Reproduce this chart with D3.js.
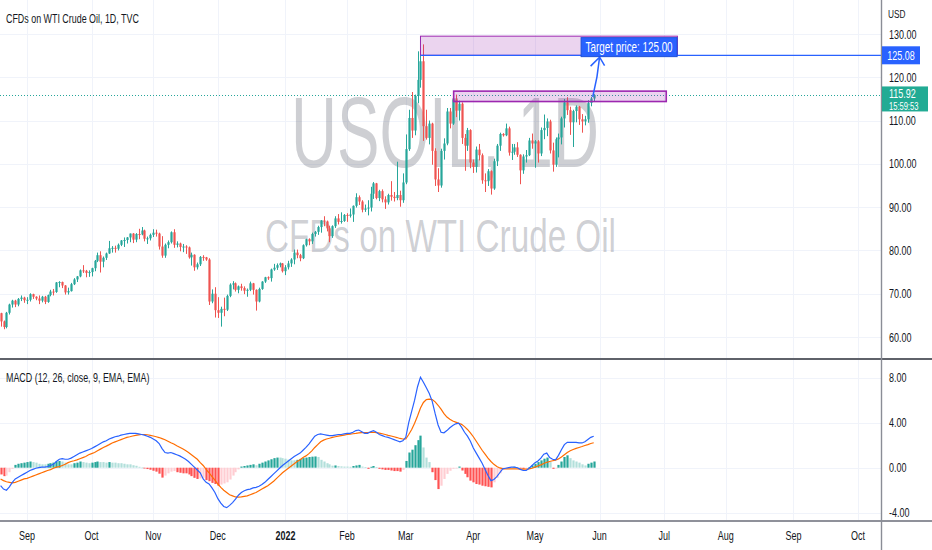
<!DOCTYPE html>
<html>
<head>
<meta charset="utf-8">
<script src="https://cdn.jsdelivr.net/npm/d3@7"></script>
<style>
  body { margin: 0; background: #fff; }
  svg { display: block; }
  text { font-family: "Liberation Sans", Arial, sans-serif; }
</style>
</head>
<body>
<div id="main"></div>
<script>
// daily candles, Aug 19 2021 .. May 30 2022 (weekdays), [open, high, low, close]
const ohlc = [
  // Aug 2021
  [65.5,65.6,62.4,63.6],[63.6,63.8,61.8,62.3],[62.3,65.8,62.0,65.6],[65.6,67.7,65.2,67.5],[67.5,68.6,66.8,68.4],
  [68.4,68.6,66.9,67.5],[67.5,69.0,67.1,68.8],[68.8,69.6,68.3,69.1],[69.1,69.3,67.9,68.5],
  // Sep
  [68.5,69.2,67.6,68.6],[68.6,70.1,68.2,69.9],[69.9,70.0,68.8,69.3],[69.3,69.4,68.5,68.9],[68.9,69.6,67.6,68.4],
  [68.4,69.5,68.0,69.3],[69.3,69.5,67.6,68.1],[68.1,69.8,67.9,69.7],[69.7,70.9,69.4,70.5],[70.5,71.1,69.6,70.4],
  [70.4,72.7,70.2,72.6],[72.6,72.9,71.5,72.7],[72.7,72.8,71.3,71.9],[71.9,72.0,69.8,70.3],[70.3,71.4,69.8,70.6],
  [70.6,72.5,70.5,72.2],[72.2,73.6,72.0,73.3],[73.3,74.1,72.7,74.0],[74.0,75.6,73.8,75.4],[75.4,76.6,74.8,75.3],
  [75.3,75.5,73.8,74.8],[74.8,75.4,73.9,75.0],
  // Oct
  [75.0,76.0,74.0,75.9],[75.9,77.8,75.2,77.6],[77.6,79.5,77.3,78.9],[78.9,79.8,74.9,77.4],[77.4,78.6,76.1,78.3],
  [78.3,79.5,77.8,79.3],[79.3,82.2,79.2,80.5],[80.5,81.0,79.5,80.6],[80.6,81.1,79.5,80.4],[80.4,81.6,80.0,81.3],
  [81.3,82.4,81.0,82.3],[82.3,83.0,80.8,82.4],[82.4,83.1,81.6,83.0],[83.0,83.9,81.9,83.9],[83.9,84.0,81.7,82.5],
  [82.5,84.0,81.9,83.8],[83.8,85.0,82.6,83.7],[83.7,85.4,83.5,84.6],[84.6,84.8,82.1,82.7],[82.7,83.2,81.5,82.8],
  [82.8,83.9,82.3,83.6],
  // Nov
  [83.6,84.9,83.1,84.1],[84.1,84.8,83.2,83.9],[83.9,84.1,80.2,80.9],[80.9,83.3,78.3,78.8],[78.8,81.6,78.3,81.3],
  [81.3,82.3,80.5,81.9],[81.9,84.4,81.6,84.2],[84.2,84.9,80.6,81.3],[81.3,82.1,80.7,81.6],[81.6,81.8,79.8,80.8],
  [80.8,81.5,79.6,80.9],[80.9,81.2,79.2,80.7],[80.7,80.9,78.1,78.4],[78.4,79.5,76.5,79.0],[79.0,79.1,75.3,76.1],
  [76.1,77.2,75.6,76.8],[76.8,78.7,76.4,78.5],[78.5,78.9,77.6,78.4],[78.4,78.5,77.6,77.9],[77.9,78.2,67.4,68.2],
  [68.2,71.0,67.8,70.0],[70.0,71.5,64.5,66.2],
  // Dec
  [66.2,69.2,64.4,65.6],[65.6,67.0,62.4,66.5],[66.5,69.1,64.8,66.3],[66.3,69.8,66.0,69.5],[69.5,72.4,69.2,72.1],
  [72.1,72.9,71.0,72.4],[72.4,72.6,70.5,70.9],[70.9,71.9,70.1,71.7],[71.7,72.3,70.7,71.3],[71.3,71.7,69.9,70.7],
  [70.7,71.2,69.3,70.9],[70.9,72.8,70.6,72.4],[72.4,72.5,69.8,70.9],[70.9,71.0,66.1,68.2],[68.2,71.4,68.0,71.1],
  [71.1,72.9,70.9,72.8],[72.8,73.9,72.5,73.8],[73.8,74.0,73.2,73.6],[73.6,75.8,72.8,75.6],[75.6,76.9,75.3,76.0],
  [76.0,77.0,75.5,76.6],[76.6,77.2,76.1,77.0],[77.0,77.1,74.9,75.2],
  // Jan 2022
  [75.2,76.6,74.3,76.1],[76.1,77.6,75.6,77.0],[77.0,78.2,76.2,77.9],[77.9,80.2,76.8,79.5],[79.5,80.2,78.2,78.9],
  [78.9,79.2,77.5,78.2],[78.2,81.4,78.0,81.2],[81.2,82.7,80.9,82.6],[82.6,82.8,81.2,82.1],[82.1,84.1,81.5,83.8],
  [83.8,84.5,83.2,84.3],[84.3,85.7,83.6,85.4],[85.4,87.0,84.1,86.9],[86.9,87.9,85.6,86.7],[86.7,86.9,84.4,85.1],
  [85.1,85.7,81.9,83.3],[83.3,85.8,82.9,85.6],[85.6,87.9,85.2,87.4],[87.4,88.4,86.0,86.6],[86.6,88.8,86.2,86.8],
  [86.8,88.4,86.6,88.2],
  // Feb
  [88.2,88.6,86.6,88.0],[88.0,89.7,87.6,88.3],[88.3,90.4,86.6,90.3],[90.3,93.2,89.9,92.3],[92.3,92.7,90.5,91.3],
  [91.3,91.6,88.8,89.4],[89.4,90.6,88.9,89.7],[89.7,91.6,88.1,89.9],[89.9,94.7,89.0,93.1],[93.1,95.8,91.9,95.5],
  [95.5,95.6,91.8,92.1],[92.1,94.0,91.4,93.7],[93.7,94.1,91.1,91.8],[91.8,92.5,89.6,91.1],[91.1,93.1,90.6,92.8],
  [92.8,96.0,91.5,92.4],[92.4,93.5,91.3,92.1],[92.1,100.5,91.6,92.8],[92.8,93.8,90.1,91.6],[91.6,97.8,91.0,95.7],
  // Mar
  [95.7,106.8,95.3,103.4],[103.4,112.5,103.0,110.6],[110.6,116.6,106.0,107.7],[107.7,116.0,106.6,115.7],[115.7,126.0,114.0,119.4],
  [119.4,129.4,117.6,123.7],[123.7,127.6,105.3,108.7],[108.7,112.5,105.6,106.0],[106.0,110.0,104.5,109.3],[109.3,109.5,99.8,103.0],
  [103.0,103.6,94.9,96.4],[96.4,99.0,93.5,95.0],[95.0,103.5,94.5,103.0],[103.0,105.9,101.0,104.7],[104.7,112.9,104.3,112.1],
  [112.1,112.9,108.2,109.3],[109.3,115.4,109.0,114.9],[114.9,116.0,110.8,112.3],[112.3,114.6,110.0,113.9],[113.9,114.2,104.6,106.0],
  [106.0,106.9,98.4,104.2],[104.2,108.3,103.0,107.8],[107.8,108.0,99.0,100.3],
  // Apr
  [100.3,101.0,97.9,99.3],[99.3,104.0,98.0,103.3],[103.3,104.6,100.8,102.0],[102.0,102.4,95.4,96.2],[96.2,97.8,93.5,96.0],
  [96.0,98.8,94.9,98.3],[98.3,98.5,92.9,94.3],[94.3,101.2,94.0,100.6],[100.6,104.6,99.5,104.2],[104.2,107.2,103.0,106.9],
  [106.9,107.1,106.3,106.6],[106.6,109.3,106.4,108.2],[108.2,108.6,101.9,102.6],[102.6,104.6,100.9,102.8],[102.8,104.6,102.1,103.8],
  [103.8,105.0,101.6,102.1],[102.1,102.2,95.3,98.5],[98.5,102.2,97.7,101.7],[101.7,103.2,100.3,102.0],[102.0,106.0,101.8,105.4],
  [105.4,107.0,103.5,104.7],
  // May
  [104.7,105.5,99.1,105.2],[105.2,105.5,100.3,102.4],[102.4,108.4,101.8,107.8],[107.8,111.4,105.7,108.3],[108.3,110.5,106.4,109.8],
  [109.8,110.2,102.4,103.1],[103.1,104.9,98.2,99.8],[99.8,106.1,99.3,105.7],[105.7,107.0,101.5,106.1],[106.1,110.9,104.5,110.5],
  [110.5,115.0,108.4,114.2],[114.2,115.4,111.3,112.4],[112.4,113.2,106.7,109.6],[109.6,112.5,103.9,112.2],[112.2,113.5,109.6,113.2],
  [113.2,113.4,109.0,110.3],[110.3,111.5,107.2,109.8],[109.8,111.1,108.9,110.3],[110.3,114.7,109.5,114.1],[114.1,115.5,113.3,115.1],
  [115.1,116.1,114.4,115.92]
];

const macdLine = [
  -1.6,-1.9,-2.0,-1.7,-1.3,-1.0,-0.85,-0.7,-0.55,-0.4,
  -0.25,-0.15,-0.05,0.0,0.05,0.05,0.1,0.2,0.3,0.55,
  0.75,0.8,0.75,0.75,0.85,1.0,1.15,1.3,1.4,1.5,
  1.6,1.7,1.85,2.0,2.15,2.3,2.4,2.55,2.65,2.75,
  2.8,2.9,2.95,3.0,3.05,3.05,3.05,3.0,2.95,2.9,
  2.8,2.7,2.55,2.4,2.15,1.7,1.35,1.3,1.35,1.25,
  1.15,1.05,0.9,0.75,0.55,0.3,0.05,-0.2,-0.45,-1.0,
  -1.3,-1.45,-1.8,-2.2,-2.75,-3.15,-3.45,-3.55,-3.35,-3.1,
  -2.8,-2.45,-2.2,-2.05,-1.95,-1.9,-1.8,-1.75,-1.65,-1.5,
  -1.3,-1.05,-0.8,-0.55,-0.3,-0.05,0.2,0.4,0.6,0.8,
  1.0,1.15,1.3,1.55,1.8,2.1,2.45,2.8,2.95,3.0,
  2.95,2.9,2.85,2.85,2.9,2.95,2.95,3.0,3.05,3.05,
  3.15,3.3,3.35,3.2,3.05,3.05,3.2,3.3,3.15,2.95,
  2.85,2.75,2.7,2.6,2.5,2.4,2.3,2.4,2.7,4.0,
  5.0,6.0,7.2,8.05,7.6,7.1,6.6,5.9,4.8,3.8,
  3.15,3.1,3.3,3.55,3.75,3.9,3.95,3.6,3.15,2.8,
  2.35,1.75,1.3,0.85,0.4,-0.15,-0.7,-1.15,-1.05,-0.8,
  -0.45,-0.1,-0.05,0.0,0.05,0.05,0.0,-0.15,-0.25,-0.25,
  -0.05,0.2,0.45,0.6,0.85,1.2,1.3,0.9,0.75,0.7,
  1.1,1.6,2.05,2.25,2.25,2.25,2.25,2.2,2.2,2.3,
  2.5,2.7,2.8
];

const signalLine = [
  -1.0,-1.15,-1.25,-1.3,-1.35,-1.3,-1.2,-1.1,-1.0,-0.95,
  -0.85,-0.75,-0.65,-0.55,-0.45,-0.35,-0.25,-0.17,-0.05,0.05,
  0.1,0.2,0.3,0.45,0.55,0.62,0.7,0.8,0.9,1.0,
  1.15,1.25,1.35,1.5,1.65,1.8,1.92,2.05,2.2,2.3,
  2.4,2.5,2.6,2.7,2.75,2.82,2.88,2.92,2.95,2.95,
  2.93,2.88,2.82,2.75,2.68,2.58,2.48,2.35,2.22,2.1,
  1.95,1.82,1.68,1.52,1.35,1.15,0.95,0.75,0.45,0.2,
  -0.15,-0.45,-0.8,-1.1,-1.45,-1.75,-2.0,-2.2,-2.4,-2.5,
  -2.6,-2.62,-2.6,-2.55,-2.5,-2.4,-2.3,-2.2,-2.05,-1.9,
  -1.75,-1.6,-1.4,-1.2,-0.95,-0.7,-0.45,-0.25,-0.05,0.15,
  0.35,0.55,0.7,0.9,1.05,1.25,1.5,1.8,2.05,2.3,
  2.45,2.55,2.62,2.7,2.75,2.8,2.85,2.9,2.95,2.98,
  3.02,3.05,3.1,3.12,3.12,3.13,3.14,3.15,3.12,3.08,
  3.02,2.95,2.88,2.82,2.75,2.68,2.6,2.55,2.55,2.95,
  3.4,3.95,4.6,5.3,5.8,6.05,6.1,6.05,5.85,5.55,
  5.2,4.8,4.5,4.3,4.15,4.05,3.95,3.85,3.65,3.4,
  3.1,2.75,2.35,1.95,1.55,1.2,0.85,0.55,0.3,0.1,
  -0.02,-0.08,-0.1,-0.1,-0.1,-0.1,-0.1,-0.12,-0.13,-0.12,
  -0.1,-0.05,0.05,0.15,0.25,0.38,0.48,0.55,0.62,0.68,
  0.78,0.95,1.15,1.35,1.5,1.62,1.72,1.8,1.88,1.97,
  2.05,2.15,2.22
];

const histogram = [
  -0.6,-0.75,-0.7,-0.4,-0.1,0.25,0.35,0.4,0.45,0.5,
  0.55,0.5,0.45,0.35,0.3,0.3,0.35,0.4,0.45,0.55,
  0.6,0.55,0.45,0.3,0.3,0.4,0.45,0.55,0.5,0.45,
  0.4,0.45,0.5,0.55,0.5,0.5,0.45,0.5,0.45,0.45,
  0.4,0.4,0.35,0.3,0.3,0.22,0.17,0.08,0.02,-0.05,
  -0.12,-0.18,-0.27,-0.35,-0.53,-0.88,-0.7,-0.5,-0.35,-0.3,
  -0.4,-0.45,-0.5,-0.5,-0.6,-0.75,-0.9,-1.0,-0.95,-0.9,
  -1.1,-1.2,-1.35,-1.45,-1.6,-1.5,-1.4,-1.3,-1.05,-0.7,
  -0.4,-0.15,0.1,0.15,0.2,0.25,0.3,0.22,0.35,0.45,
  0.55,0.65,0.75,0.85,0.9,0.9,0.85,0.8,0.72,0.65,
  0.65,0.7,0.78,0.85,0.9,0.95,0.98,1.0,0.95,0.7,
  0.55,0.4,0.3,0.18,0.2,0.15,0.12,0.1,0.1,0.08,
  0.15,0.2,0.25,0.1,0.05,-0.1,0.08,0.15,0.05,-0.1,
  -0.15,-0.2,-0.2,-0.25,-0.3,-0.3,-0.35,-0.2,0.6,1.35,
  1.6,2.0,2.45,2.85,1.8,0.9,0.5,-0.4,-1.1,-1.9,
  -1.6,-1.0,-0.55,-0.27,-0.1,-0.05,0.1,-0.25,-0.55,-0.85,
  -1.15,-1.3,-1.45,-1.5,-1.6,-1.65,-1.7,-1.75,-1.3,-0.9,
  -0.5,-0.2,-0.05,0.05,0.05,0.08,0.06,-0.02,-0.1,-0.05,
  0.05,0.2,0.35,0.5,0.65,0.8,0.9,0.5,-0.1,-0.05,
  0.25,0.55,0.95,1.1,0.85,0.65,0.55,0.45,0.3,0.2,
  0.35,0.45,0.55
];

const priceTicks = [60, 70, 80, 90, 100, 110, 120, 130];
const macdTicks = [-4, 0, 4, 8];

// drawn rectangles: bar index range and price range
const zones = [
  { from: 143, to: 230.5, top: 129.5, bottom: 125.08, stroke: 1 },
  { from: 154.3, to: 226.7, top: 116.8, bottom: 114.4, stroke: 1.6 }
];
const lastPrice = 115.92, countdown = "15:59:53";
const targetPrice = 125.00, targetLevel = 125.08, targetBar = 204, rayStart = 143;

var W = 932, H = 550, axisX = 881;
var SX = 0.72; // text in the snapshot is horizontally condensed

var up = "#26a69a", down = "#ef5350", gridColor = "#f0f3fa", ink = "#131722";

// trading-day calendar (weekdays) starting Aug 19 2021
var days = d3.timeDay.range(new Date(2021, 7, 19), new Date(2022, 9, 29))
  .filter(function(d) { return d.getDay() !== 0 && d.getDay() !== 6; });

var monthTicks = [];
days.forEach(function(d, i) {
  if (i > 0 && d.getMonth() !== days[i - 1].getMonth())
    monthTicks.push({ i: i, label: d.getMonth() === 0 ? String(d.getFullYear()) : d3.timeFormat("%b")(d), year: d.getMonth() === 0 });
});

var x = d3.scaleLinear().domain([9, 292]).range([27, 858]);
var y = d3.scaleLinear().domain([60, 130]).range([337, 34]);
var ym = d3.scaleLinear().domain([-4, 8]).range([512.7, 377.7]);

var svg = d3.select("#main").append("svg").attr("width", W).attr("height", H);
svg.append("rect").attr("width", W).attr("height", H).attr("fill", "#fff");

var defs = svg.append("defs");
defs.append("clipPath").attr("id", "clipPrice").append("rect").attr("width", axisX).attr("height", 358);
defs.append("clipPath").attr("id", "clipMacd").append("rect").attr("y", 360).attr("width", axisX).attr("height", 160);

function label(g, px, py, s, size, fill, anchor, weight, sx) {
  return g.append("text")
    .attr("transform", "translate(" + px + "," + py + ") scale(" + (sx || SX) + ",1)")
    .attr("font-size", size)
    .attr("fill", fill)
    .attr("text-anchor", anchor || "start")
    .attr("font-weight", weight || "normal")
    .text(s);
}

// grid
var grid = svg.append("g").attr("stroke", gridColor).attr("stroke-width", 1);
grid.selectAll(".vp").data(monthTicks).enter().append("line")
  .attr("x1", function(d) { return Math.round(x(d.i)) + 0.5; })
  .attr("x2", function(d) { return Math.round(x(d.i)) + 0.5; })
  .attr("y1", 0).attr("y2", 358);
grid.selectAll(".vm").data(monthTicks).enter().append("line")
  .attr("x1", function(d) { return Math.round(x(d.i)) + 0.5; })
  .attr("x2", function(d) { return Math.round(x(d.i)) + 0.5; })
  .attr("y1", 360).attr("y2", 520);
grid.selectAll(".hp").data(priceTicks).enter().append("line")
  .attr("x1", 0).attr("x2", axisX)
  .attr("y1", function(d) { return Math.round(y(d)) + 0.5; })
  .attr("y2", function(d) { return Math.round(y(d)) + 0.5; });
grid.selectAll(".hm").data(macdTicks).enter().append("line")
  .attr("x1", 0).attr("x2", axisX)
  .attr("y1", function(d) { return Math.round(ym(d)) + 0.5; })
  .attr("y2", function(d) { return Math.round(ym(d)) + 0.5; });

// watermark
var wm = "rgba(120,123,134,0.36)";
svg.append("text").attr("x", 291).attr("y", 167).attr("font-size", 100)
  .attr("textLength", 308).attr("lengthAdjust", "spacingAndGlyphs")
  .attr("fill", wm).text("USOIL, 1D");
svg.append("text").attr("x", 265).attr("y", 252).attr("font-size", 47)
  .attr("textLength", 351).attr("lengthAdjust", "spacingAndGlyphs")
  .attr("fill", wm).text("CFDs on WTI Crude Oil");

// price pane
var price = svg.append("g").attr("clip-path", "url(#clipPrice)");

price.append("line")
  .attr("x1", 0).attr("x2", axisX)
  .attr("y1", Math.round(y(lastPrice)) + 0.5).attr("y2", Math.round(y(lastPrice)) + 0.5)
  .attr("stroke", up).attr("stroke-dasharray", "1,2");

var candle = price.selectAll(".c").data(ohlc).enter().append("g")
  .attr("fill", function(d) { return d[3] >= d[0] ? up : down; });
candle.append("rect")
  .attr("x", function(d, i) { return Math.round(x(i)); })
  .attr("width", 1)
  .attr("y", function(d) { return y(d[1]); })
  .attr("height", function(d) { return y(d[2]) - y(d[1]); });
candle.append("rect")
  .attr("x", function(d, i) { return Math.round(x(i)) - 0.6; })
  .attr("width", 2.2)
  .attr("y", function(d) { return y(Math.max(d[0], d[3])); })
  .attr("height", function(d) { return Math.max(1, Math.abs(y(d[0]) - y(d[3]))); });

// drawn zones
price.selectAll(".z").data(zones).enter().append("rect")
  .attr("x", function(d) { return x(d.from); })
  .attr("width", function(d) { return x(d.to) - x(d.from); })
  .attr("y", function(d) { return y(d.top); })
  .attr("height", function(d) { return y(d.bottom) - y(d.top); })
  .attr("fill", "rgba(156,39,176,0.2)")
  .attr("stroke", "#9c27b0")
  .attr("stroke-width", function(d) { return d.stroke; });

// target ray, arrow and label
var blue = "#2962ff";
var tipX = x(targetBar), tipY = y(targetPrice) + 1.5;
price.append("line")
  .attr("x1", x(rayStart)).attr("x2", axisX)
  .attr("y1", y(targetLevel)).attr("y2", y(targetLevel))
  .attr("stroke", blue).attr("stroke-width", 1.2);

var startX = x(ohlc.length - 1) - 1, startY = y(lastPrice) + 2;
price.append("path")
  .attr("d", "M" + startX + "," + startY + " Q" + (startX + 5) + "," + ((startY + tipY) / 2) + " " + tipX + "," + tipY
    + " M" + (tipX - 9) + "," + (tipY + 9) + " L" + tipX + "," + tipY + " L" + (tipX + 5) + "," + (tipY + 8.5))
  .attr("fill", "none").attr("stroke", blue).attr("stroke-width", 1.5);

price.append("rect")
  .attr("x", tipX - 18.5).attr("y", tipY - 19.5)
  .attr("width", 96).attr("height", 19)
  .attr("fill", blue).attr("stroke", "#1e4fd8");
label(price, tipX - 18.5 + 48, tipY - 5, "Target price: " + targetPrice.toFixed(2), 14.5, "#fff", "middle", "normal", 0.68);

// title
label(svg, 6, 23, "CFDs on WTI Crude Oil, 1D, TVC", 13.5, ink, "start", "normal", 0.66);

// MACD pane
var macdG = svg.append("g").attr("clip-path", "url(#clipMacd)");
macdG.selectAll(".h").data(histogram).enter().append("rect")
  .attr("x", function(d, i) { return Math.round(x(i)) - 0.6; })
  .attr("width", 2.2)
  .attr("y", function(d) { return Math.min(ym(d), ym(0)); })
  .attr("height", function(d) { return Math.max(0.8, Math.abs(ym(d) - ym(0))); })
  .attr("fill", function(d, i) {
    var prev = i > 0 ? histogram[i - 1] : d;
    if (d >= 0) return prev < d ? "#26a69a" : "#b2dfdb";
    return prev < d ? "#ffcdd2" : "#ff5252";
  });

var line = d3.line().x(function(d, i) { return x(i); }).y(function(d) { return ym(d); });
macdG.append("path").datum(signalLine).attr("d", line)
  .attr("fill", "none").attr("stroke", "#ff6d00").attr("stroke-width", 1.2);
macdG.append("path").datum(macdLine).attr("d", line)
  .attr("fill", "none").attr("stroke", blue).attr("stroke-width", 1.2);

label(svg, 6, 382, "MACD (12, 26, close, 9, EMA, EMA)", 13.5, ink, "start", "normal", 0.66);

// pane borders and axis lines
svg.append("line").attr("x1", 0).attr("x2", W).attr("y1", 359).attr("y2", 359)
  .attr("stroke", "#2a2e39").attr("stroke-width", 1.6);
svg.append("line").attr("x1", 0).attr("x2", W).attr("y1", 521).attr("y2", 521)
  .attr("stroke", "#6a6d78").attr("stroke-width", 1.4);
svg.append("line").attr("x1", axisX + 0.5).attr("x2", axisX + 0.5).attr("y1", 0).attr("y2", H)
  .attr("stroke", "#8a8d96").attr("stroke-width", 1.4);

// price axis
var axisG = svg.append("g");
label(axisG, 888, 18, "USD", 11.5, ink);
priceTicks.forEach(function(t) { label(axisG, 889, y(t) + 4.5, t.toFixed(2), 12.5, ink); });
macdTicks.forEach(function(t) { label(axisG, 889, ym(t) + 4.5, t.toFixed(2), 12.5, ink); });

axisG.append("rect").attr("x", 882).attr("y", y(targetLevel) - 9).attr("width", 38).attr("height", 18).attr("fill", blue);
label(axisG, 901, y(targetLevel) + 4.5, targetLevel.toFixed(2), 12.5, "#fff", "middle");

axisG.append("rect").attr("x", 882).attr("y", y(lastPrice) - 8.5).attr("width", 46).attr("height", 25).attr("fill", "#22ab94");
label(axisG, 889, y(lastPrice) + 3.5, lastPrice.toFixed(2), 12.5, "#fff");
label(axisG, 889, y(lastPrice) + 15, countdown, 10.5, "#fff");

// time axis
var timeG = svg.append("g");
monthTicks.filter(function(d) { return x(d.i) < axisX - 10; }).forEach(function(d) {
  label(timeG, x(d.i), 540, d.label, 12.5, ink, "middle", d.year ? "bold" : "normal");
});
</script>
</body>
</html>
